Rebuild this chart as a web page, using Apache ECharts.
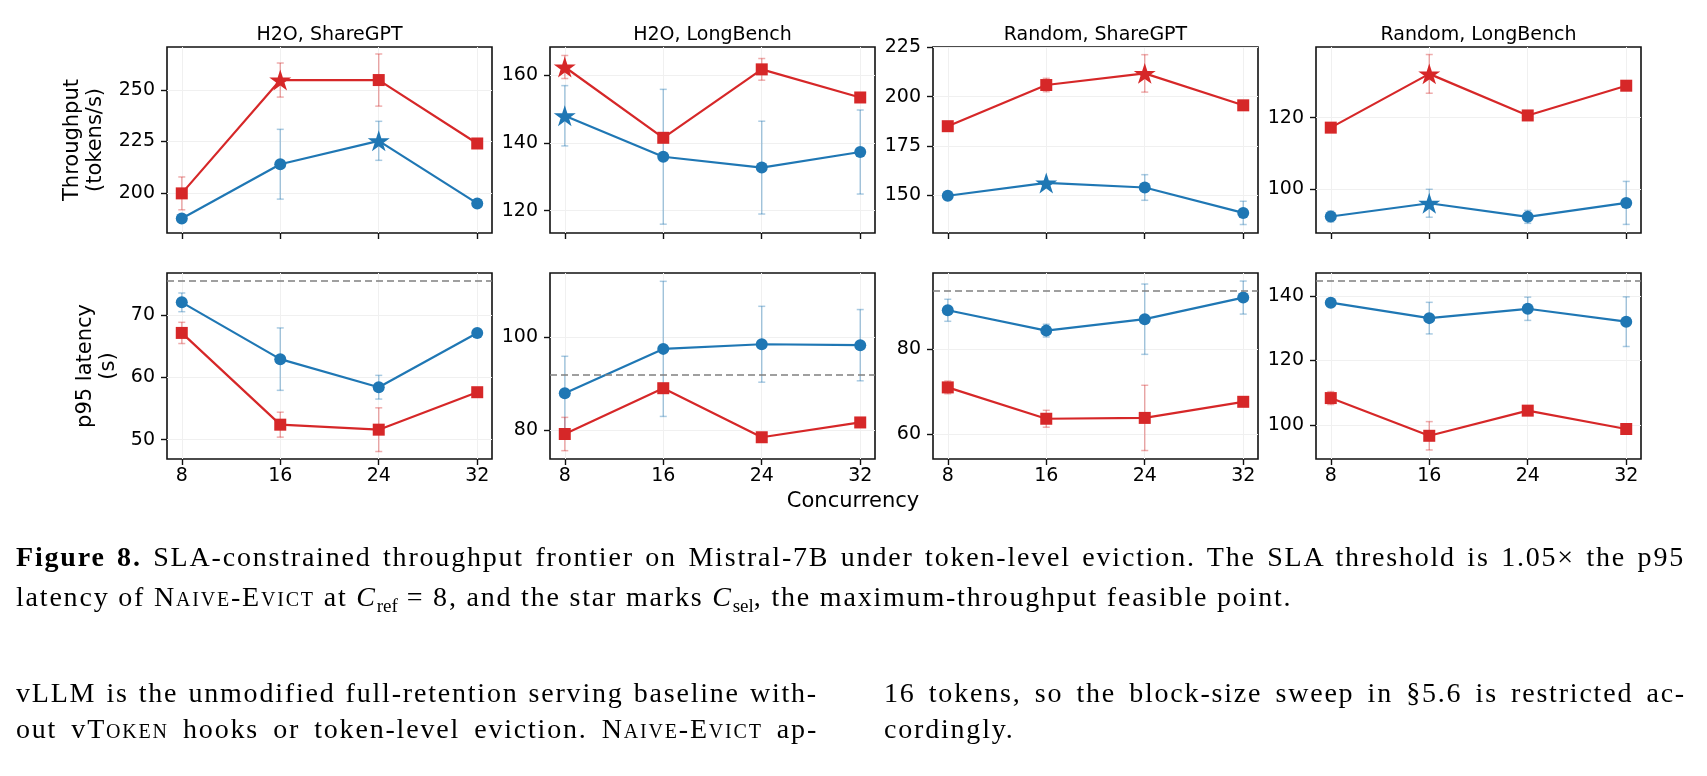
<!DOCTYPE html>
<html>
<head>
<meta charset="utf-8">
<script src="https://cdn.jsdelivr.net/npm/echarts@6/dist/echarts.min.js"></script>
<style>
html, body { margin: 0; padding: 0; background: #fff; overflow: hidden; }
#chart { position: absolute; left: 0; top: 0; width: 1707px; height: 776px; }
.ln { position: absolute; font-family: 'Liberation Serif', 'Times New Roman', serif; font-size: 28px;
      line-height: 30px; letter-spacing: 1.8px; color: #000; white-space: nowrap; }
.jl { text-align: justify; text-align-last: justify; white-space: normal; }
.sc { font-variant: small-caps; }
sub { font-size: 0.68em; vertical-align: -0.3em; line-height: 0; letter-spacing: 0; }
</style>
</head>
<body>
<div id="chart"></div>

<div class="ln jl" style="left:16px;top:542px;width:1669px"><b>Figure 8.</b> SLA-constrained throughput frontier on Mistral-7B under token-level eviction. The SLA threshold is 1.05× the p95</div>
<div class="ln" style="left:16px;top:582px">latency of N<span class="sc">aive</span>-E<span class="sc">vict</span> at <i>C</i><sub>ref</sub> = 8, and the star marks <i>C</i><sub>sel</sub>, the maximum-throughput feasible point.</div>

<div class="ln jl" style="left:16px;top:678px;width:802px">vLLM is the unmodified full-retention serving baseline with-</div>
<div class="ln jl" style="left:16px;top:714px;width:802px">out v<span class="sc">Token</span> hooks or token-level eviction. N<span class="sc">aive</span>-E<span class="sc">vict</span> ap-</div>
<div class="ln jl" style="left:884px;top:678px;width:802px">16 tokens, so the block-size sweep in §5.6 is restricted ac-</div>
<div class="ln" style="left:884px;top:714px">cordingly.</div>

<script>
// x values shared by every panel
var concurrency = [8, 16, 24, 32];
var panelTitles = ['H2O, ShareGPT', 'H2O, LongBench', 'Random, ShareGPT', 'Random, LongBench'];

// throughput (tokens/s), one row per panel
var tputNaive = [
  [187.5, 213.9, 225.3, 194.8],
  [148.0, 135.9, 132.7, 137.3],
  [149.7, 156.2, 153.9, 141.0],
  [92.4, 96.1, 92.3, 96.2]
];
var tputNaiveErr = [
  [1.0, 17.0, 9.5, 1.0],
  [8.9, 19.9, 13.7, 12.4],
  [2.0, 1.0, 6.5, 5.9],
  [1.5, 3.9, 1.8, 6.0]
];
var tputVtoken = [
  [199.7, 254.9, 254.9, 224.0],
  [162.4, 141.5, 161.7, 153.4],
  [185.0, 205.9, 211.8, 195.6],
  [117.2, 132.2, 120.6, 128.9]
];
var tputVtokenErr = [
  [8.0, 8.3, 12.7, 1.0],
  [3.4, 1.0, 3.2, 1.0],
  [1.5, 3.4, 9.5, 1.0],
  [1.0, 5.4, 1.0, 1.0]
];
// index of the selected (starred) concurrency in each panel
var starNaive = [2, 0, 1, 1];
var starVtoken = [1, 0, 2, 1];

// p95 latency (s)
var latNaive = [
  [72.0, 62.9, 58.4, 67.1],
  [87.9, 97.5, 98.5, 98.3],
  [89.2, 84.4, 87.1, 92.2],
  [137.9, 133.1, 136.0, 132.0]
];
var latNaiveErr = [
  [1.5, 5.0, 1.9, 0.5],
  [8.0, 14.6, 8.2, 7.7],
  [2.6, 1.5, 8.3, 3.9],
  [1.0, 4.9, 3.6, 7.7]
];
var latVtoken = [
  [67.1, 52.4, 51.6, 57.6],
  [79.1, 89.0, 78.4, 81.6],
  [71.0, 63.6, 63.8, 67.6],
  [108.3, 96.6, 104.4, 98.7]
];
var latVtokenErr = [
  [1.7, 2.0, 3.5, 0.5],
  [3.6, 1.0, 0.5, 0.5],
  [1.5, 2.0, 7.7, 0.5],
  [2.0, 4.4, 1.0, 0.5]
];
var slaThreshold = [75.5, 92.0, 93.8, 144.7];

// axis ranges and tick labels
var tputRange = [[180.4, 271], [113.4, 168.3], [130.8, 225.2], [87.8, 139.7]];
var tputTicks = [[200, 225, 250], [120, 140, 160], [150, 175, 200, 225], [100, 120]];
var latRange = [[46.9, 76.7], [73.7, 113.9], [54.1, 98.0], [89.4, 147.1]];
var latTicks = [[50, 60, 70], [80, 100], [60, 80], [100, 120, 140]];

var BLUE = '#1f77b4', RED = '#d62728';
var BLUE_ERR = 'rgba(31,119,180,0.38)', RED_ERR = 'rgba(214,39,40,0.38)';
var STAR = 'path://M100 0 L77.55 69.1 L4.89 69.1 L63.67 111.8 L41.22 180.9 L100 138.2 L158.78 180.9 L136.33 111.8 L195.11 69.1 L122.45 69.1 Z';
var FONT = '"DejaVu Sans", Verdana, sans-serif';

var colLeft = [167, 550, 933, 1316];
var rowTop = [47, 273];
var panelW = 325, panelH = 186;

function errRender(color) {
  return function (params, api) {
    var x = api.value(0), y = api.value(1), e = api.value(2);
    var lo = api.coord([x, y - e]), hi = api.coord([x, y + e]);
    var cw = 3.5;
    var st = { stroke: color, lineWidth: 1.5, fill: null };
    return {
      type: 'group',
      children: [
        { type: 'line', shape: { x1: lo[0], y1: lo[1], x2: hi[0], y2: hi[1] }, style: st },
        { type: 'line', shape: { x1: lo[0] - cw, y1: lo[1], x2: lo[0] + cw, y2: lo[1] }, style: st },
        { type: 'line', shape: { x1: hi[0] - cw, y1: hi[1], x2: hi[0] + cw, y2: hi[1] }, style: st }
      ]
    };
  };
}

function lineData(vals, star) {
  return concurrency.map(function (x, i) {
    if (i === star) return { value: [x, vals[i]], symbol: STAR, symbolSize: 22 };
    return [x, vals[i]];
  });
}

function errData(vals, errs) {
  return concurrency.map(function (x, i) { return [x, vals[i], errs[i]]; });
}

var grids = [], xAxes = [], yAxes = [], series = [], graphics = [];

for (var r = 0; r < 2; r++) {
  for (var c = 0; c < 4; c++) {
    var k = r * 4 + c;
    var isTop = r === 0;
    grids.push({
      left: colLeft[c], top: rowTop[r], width: panelW, height: panelH,
      show: true, borderColor: '#111', borderWidth: 1.6, backgroundColor: 'transparent'
    });
    xAxes.push({
      gridIndex: k, type: 'value', min: 6.8, max: 33.2,
      axisLine: { show: false, onZero: false },
      axisTick: { show: true, length: 6, customValues: concurrency, lineStyle: { color: '#111', width: 1.4 } },
      axisLabel: { show: !isTop, customValues: concurrency, margin: 8, fontSize: 19, fontFamily: FONT, color: '#000' },
      splitLine: { show: true, lineStyle: { color: '#f0f0f0', width: 1 } }
    });
    var rng = isTop ? tputRange[c] : latRange[c];
    var ticks = isTop ? tputTicks[c] : latTicks[c];
    yAxes.push({
      gridIndex: k, type: 'value', min: rng[0], max: rng[1],
      axisLine: { show: false, onZero: false },
      axisTick: { show: true, length: 6, customValues: ticks, lineStyle: { color: '#111', width: 1.4 } },
      axisLabel: { customValues: ticks, margin: 12, fontSize: 19, fontFamily: FONT, color: '#000' },
      splitLine: { show: true, lineStyle: { color: '#f0f0f0', width: 1 } }
    });

    var nv = isTop ? tputNaive[c] : latNaive[c];
    var ne = isTop ? tputNaiveErr[c] : latNaiveErr[c];
    var vv = isTop ? tputVtoken[c] : latVtoken[c];
    var ve = isTop ? tputVtokenErr[c] : latVtokenErr[c];

    series.push({
      type: 'custom', xAxisIndex: k, yAxisIndex: k, silent: true, z: 2,
      data: errData(nv, ne), encode: { x: 0, y: 1 }, renderItem: errRender(BLUE_ERR)
    });
    series.push({
      type: 'custom', xAxisIndex: k, yAxisIndex: k, silent: true, z: 2,
      data: errData(vv, ve), encode: { x: 0, y: 1 }, renderItem: errRender(RED_ERR)
    });

    var naive = {
      name: 'Naive-Evict', type: 'line', xAxisIndex: k, yAxisIndex: k, z: 4,
      data: lineData(nv, isTop ? starNaive[c] : -1),
      symbol: 'circle', symbolSize: 12, symbolKeepAspect: true,
      lineStyle: { color: BLUE, width: 2.2 }, itemStyle: { color: BLUE },
      emphasis: { disabled: true }, silent: true
    };
    if (!isTop) {
      naive.markLine = {
        silent: true, symbol: ['none', 'none'], label: { show: false },
        lineStyle: { color: '#808080', type: [7, 4], width: 1.6 },
        data: [{ yAxis: slaThreshold[c] }]
      };
    }
    series.push(naive);
    series.push({
      name: 'vToken', type: 'line', xAxisIndex: k, yAxisIndex: k, z: 5,
      data: lineData(vv, isTop ? starVtoken[c] : -1),
      symbol: 'rect', symbolSize: 12, symbolKeepAspect: true,
      lineStyle: { color: RED, width: 2.2 }, itemStyle: { color: RED },
      emphasis: { disabled: true }, silent: true
    });
  }
}

function label(text, x, y, size, rot) {
  return {
    type: 'text', x: x, y: y, rotation: rot || 0, silent: true,
    style: {
      text: text, fill: '#000', font: size + 'px ' + FONT, lineHeight: 23,
      align: 'center', verticalAlign: 'middle', textAlign: 'center', textVerticalAlign: 'middle'
    }
  };
}

for (var t = 0; t < 4; t++) {
  graphics.push(label(panelTitles[t], colLeft[t] + panelW / 2, 35.5, 19));
}
graphics.push(label('Throughput\n(tokens/s)', 84, 140, 21, Math.PI / 2));
graphics.push(label('p95 latency\n(s)', 97, 366, 21, Math.PI / 2));
graphics.push(label('Concurrency', 853, 502, 21));

var chart = echarts.init(document.getElementById('chart'));
chart.setOption({
  animation: false,
  backgroundColor: '#fff',
  grid: grids,
  xAxis: xAxes,
  yAxis: yAxes,
  series: series,
  graphic: graphics
});
</script>
</body>
</html>
